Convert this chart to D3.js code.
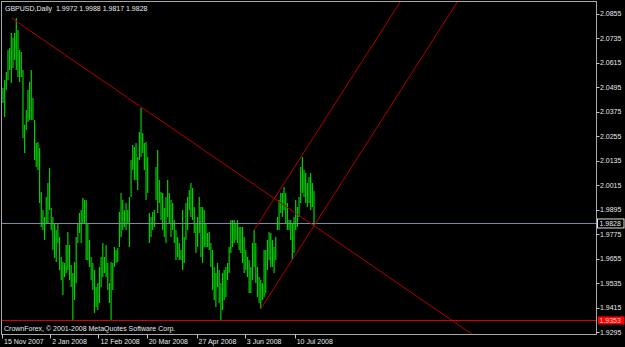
<!DOCTYPE html>
<html lang="en">
<head>
  <meta charset="UTF-8">
  <title>GBPUSD Daily</title>
  <script src="https://cdn.jsdelivr.net/npm/d3@7"></script>
<style>
    body { margin: 0; background: #000; }
    text {
      font-family: "Liberation Sans", Arial, sans-serif;
      font-size: 7px;
      fill: #e8e8e8;
      white-space: pre;
    }
</style>
</head>
<body>
<svg id="chart" width="625" height="347"></svg>

<script>
// bar highs / lows, one per daily bar
var highs = [
  2.0492,2.0531,2.0570,2.0678,2.0688,2.0761,2.0737,2.0761,2.0835,2.0776,
  2.0678,2.0668,2.0580,2.0311,2.0384,2.0482,2.0521,2.0580,2.0443,2.0335,
  2.0222,2.0227,2.0198,1.9982,1.9894,1.9860,1.9958,2.0026,2.0100,1.9904,
  1.9860,1.9830,1.9796,1.9830,1.9762,1.9664,1.9639,1.9634,1.9723,1.9786,
  1.9723,1.9625,1.9585,1.9639,1.9762,1.9830,1.9879,1.9894,1.9953,1.9943,
  1.9943,1.9830,1.9747,1.9664,1.9634,1.9600,1.9517,1.9536,1.9615,1.9664,
  1.9732,1.9664,1.9723,1.9634,1.9536,1.9639,1.9634,1.9713,1.9698,1.9708,
  1.9884,1.9977,1.9943,1.9894,1.9928,1.9894,1.9958,2.0139,2.0212,2.0203,
  2.0222,2.0154,2.0276,2.0394,2.0271,2.0222,2.0227,2.0154,1.9879,1.9860,
  1.9884,1.9894,2.0105,2.0188,2.0041,1.9982,1.9977,1.9904,1.9958,2.0041,
  1.9977,1.9943,1.9928,1.9845,1.9796,1.9762,1.9732,1.9698,1.9894,1.9762,
  1.9928,1.9958,1.9992,2.0026,2.0002,1.9909,1.9830,1.9860,1.9958,1.9909,
  1.9909,1.9894,1.9830,1.9781,1.9786,1.9732,1.9698,1.9615,1.9585,1.9634,
  1.9600,1.9536,1.9585,1.9600,1.9615,1.9634,1.9713,1.9845,1.9845,1.9845,
  1.9830,1.9845,1.9811,1.9811,1.9811,1.9762,1.9698,1.9664,1.9649,1.9615,
  1.9732,1.9796,1.9732,1.9615,1.9566,1.9551,1.9536,1.9698,1.9698,1.9747,
  1.9786,1.9781,1.9747,1.9713,1.9762,1.9860,1.9943,1.9977,1.9977,2.0007,
  1.9977,1.9928,1.9845,1.9845,1.9830,1.9860,1.9943,1.9909,1.9958,2.0105,
  2.0154,2.0090,2.0075,2.0026,2.0056,2.0075,2.0026,1.9988
];
var lows = [
  2.0418,2.0350,2.0482,2.0531,2.0580,2.0516,2.0590,2.0629,2.0580,2.0546,
  2.0521,2.0546,2.0247,2.0173,2.0286,2.0325,2.0335,2.0335,2.0335,2.0139,
  2.0105,2.0090,1.9928,1.9811,1.9796,1.9747,1.9830,1.9830,1.9894,1.9796,
  1.9698,1.9659,1.9639,1.9732,1.9600,1.9551,1.9478,1.9566,1.9585,1.9600,
  1.9551,1.9517,1.9350,1.9453,1.9536,1.9732,1.9781,1.9732,1.9830,1.9830,
  1.9649,1.9649,1.9615,1.9551,1.9502,1.9389,1.9419,1.9404,1.9438,1.9517,
  1.9566,1.9585,1.9566,1.9502,1.9438,1.9355,1.9502,1.9615,1.9634,1.9639,
  1.9713,1.9762,1.9796,1.9811,1.9796,1.9830,1.9713,1.9958,2.0090,2.0041,
  2.0041,1.9992,2.0139,2.0154,2.0173,2.0090,1.9943,1.9977,1.9732,1.9762,
  1.9796,1.9811,1.9943,1.9879,1.9928,1.9845,1.9796,1.9762,1.9732,1.9860,
  1.9830,1.9762,1.9796,1.9732,1.9649,1.9664,1.9649,1.9649,1.9600,1.9634,
  1.9747,1.9796,1.9894,1.9860,1.9845,1.9781,1.9683,1.9713,1.9781,1.9664,
  1.9634,1.9713,1.9713,1.9713,1.9698,1.9615,1.9502,1.9453,1.9419,1.9517,
  1.9438,1.9355,1.9404,1.9453,1.9468,1.9551,1.9585,1.9683,1.9713,1.9732,
  1.9747,1.9732,1.9698,1.9683,1.9634,1.9585,1.9600,1.9566,1.9487,1.9487,
  1.9551,1.9615,1.9536,1.9468,1.9438,1.9410,1.9453,1.9468,1.9487,1.9600,
  1.9649,1.9615,1.9615,1.9585,1.9649,1.9796,1.9796,1.9879,1.9860,1.9894,
  1.9830,1.9796,1.9796,1.9747,1.9649,1.9683,1.9796,1.9811,1.9860,1.9928,
  1.9977,1.9958,1.9928,1.9909,1.9928,1.9894,1.9909,1.9817
];

var lastOHLC = [1.9972, 1.9988, 1.9817, 1.9828];
var hLevel = 1.9353;

var priceTicks = [2.0855, 2.0735, 2.0615, 2.0495, 2.0375, 2.0255, 2.0135,
                  2.0015, 1.9895, 1.9775, 1.9655, 1.9535, 1.9415, 1.9295];
var dateLabels = ["15 Nov 2007", "2 Jan 2008", "12 Feb 2008", "20 Mar 2008",
                  "27 Apr 2008", "3 Jun 2008", "10 Jul 2008"];
var dateIdx = [0, 29, 58, 87, 117, 146, 176];

var svg = d3.select("#chart");
var pL = 1.5, pR = 596.5, pT = 1.5, pB = 334.5;

var x = d3.scaleLinear().domain([0, highs.length - 1]).range([3, 314]);
var y = d3.scaleLinear().domain([1.9295, 2.0855]).range([332.3, 13.8]);

svg.append("rect").attr("width", 625).attr("height", 347).attr("fill", "#000");

svg.append("clipPath").attr("id", "plot")
  .append("rect")
    .attr("x", pL).attr("y", pT)
    .attr("width", pR - pL).attr("height", pB - pT);

var plot = svg.append("g").attr("clip-path", "url(#plot)");

// bars
plot.append("g").selectAll("line")
  .data(highs)
  .enter().append("line")
    .attr("x1", function(d, i) { return x(i); })
    .attr("x2", function(d, i) { return x(i); })
    .attr("y1", function(d) { return y(d); })
    .attr("y2", function(d, i) { return y(lows[i]); })
    .attr("stroke", "#00d000")
    .attr("stroke-width", 1.2);

// horizontal level + bid line
plot.append("line")
  .attr("x1", pL).attr("x2", pR)
  .attr("y1", y(hLevel)).attr("y2", y(hLevel))
  .attr("stroke", "#e00000");

plot.append("line")
  .attr("x1", pL).attr("x2", pR)
  .attr("y1", y(lastOHLC[3])).attr("y2", y(lastOHLC[3]))
  .attr("stroke", "#7f8fa0");

// trend line + channel (rays to the right)
var last = highs.length - 1;
function ray(i0, p0, i1, p1) {
  var k = (p1 - p0) / (i1 - i0), iEnd = 420;
  plot.append("line")
    .attr("x1", x(i0)).attr("y1", y(p0))
    .attr("x2", x(iEnd)).attr("y2", y(p0 + k * (iEnd - i0)))
    .attr("stroke", "#b40000")
    .attr("stroke-width", 1);
  return k;
}
ray(5, 2.0835, last, lows[last]);
var slope = ray(155, lows[155], last, lows[last]);
ray(151, highs[151], 152, highs[151] + slope);

// frame
svg.append("rect")
  .attr("x", pL).attr("y", pT)
  .attr("width", pR - pL).attr("height", pB - pT)
  .attr("fill", "none")
  .attr("stroke", "#a8a8a8");

// price axis
var py = svg.append("g");
py.selectAll("line").data(priceTicks).enter().append("line")
  .attr("x1", pR).attr("x2", pR + 3)
  .attr("y1", function(d) { return Math.round(y(d)) + 0.5; })
  .attr("y2", function(d) { return Math.round(y(d)) + 0.5; })
  .attr("stroke", "#c8c8c8");
py.selectAll("text").data(priceTicks).enter().append("text")
  .attr("x", pR + 3.5)
  .attr("y", function(d) { return y(d) + 2.5; })
  .text(function(d) { return d.toFixed(4); });

// bid label box
svg.append("rect")
  .attr("x", 597.5).attr("y", y(lastOHLC[3]) - 4.5)
  .attr("width", 26.5).attr("height", 9)
  .attr("fill", "#000").attr("stroke", "#e0e0e0");
svg.append("text")
  .attr("x", 599.5).attr("y", y(lastOHLC[3]) + 2.5)
  .text(lastOHLC[3].toFixed(4));

// level label box
svg.append("rect")
  .attr("x", 598).attr("y", y(hLevel) - 4)
  .attr("width", 26.5).attr("height", 8)
  .attr("fill", "#ff0000");
svg.append("text")
  .attr("x", 599.5).attr("y", y(hLevel) + 2.5)
  .style("fill", "#ffd0d0")
  .text(hLevel.toFixed(4));

// date axis
var dx = svg.append("g");
dx.selectAll("line").data(dateIdx).enter().append("line")
  .attr("x1", function(d) { return Math.round(x(d)) - 0.5; })
  .attr("x2", function(d) { return Math.round(x(d)) - 0.5; })
  .attr("y1", pB).attr("y2", pB + 4)
  .attr("stroke", "#c8c8c8");
dx.selectAll("text").data(dateIdx).enter().append("text")
  .attr("x", function(d) { return x(d) + 1; })
  .attr("y", 344)
  .text(function(d, i) { return dateLabels[i]; });

// header and copyright
svg.append("text")
  .attr("x", 5).attr("y", 11)
  .text("GBPUSD,Daily  " + lastOHLC.map(function(v) { return v.toFixed(4); }).join(" "));

svg.append("text")
  .attr("x", 4).attr("y", 331)
  .text("CrownForex, \u00a9 2001-2008 MetaQuotes Software Corp.");
</script>
</body>
</html>
